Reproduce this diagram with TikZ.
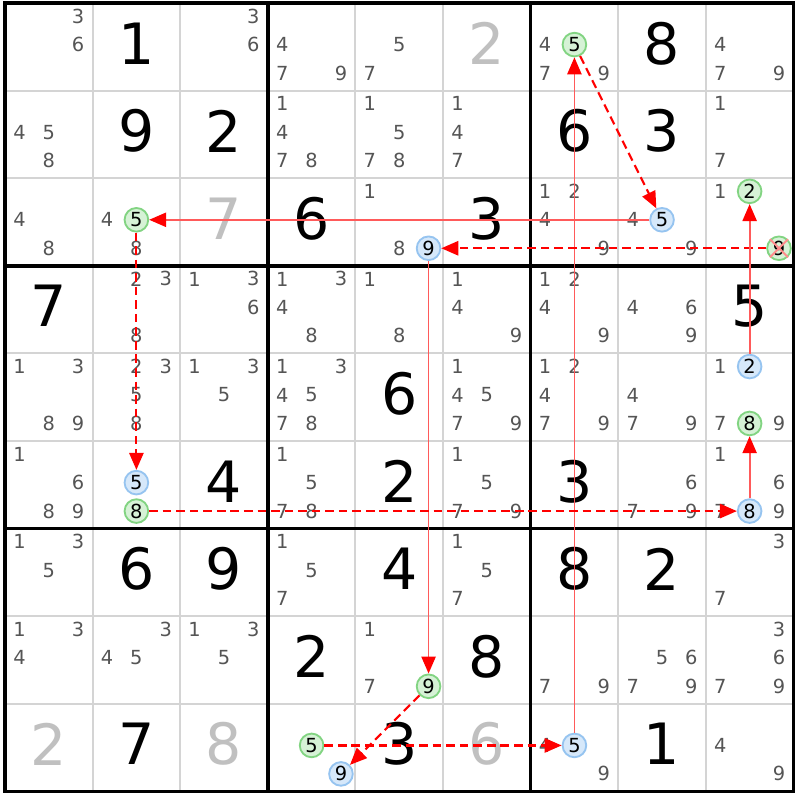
\documentclass[tikz,border=0pt]{standalone}
\usepackage{fontspec}
\setmainfont{DejaVu Sans}
\usetikzlibrary{arrows.meta}
\definecolor{candgray}{RGB}{85,85,85}
\definecolor{pale}{RGB}{192,192,192}
\definecolor{gridgray}{RGB}{212,212,212}
\definecolor{greenfill}{RGB}{214,242,214}
\definecolor{greenline}{RGB}{130,212,130}
\definecolor{bluefill}{RGB}{214,232,250}
\definecolor{blueline}{RGB}{150,196,240}
\definecolor{linkred}{RGB}{255,90,90}

\begin{document}
\begin{tikzpicture}[x=1cm,y=-1cm,>={Triangle[length=5.5pt,width=4.6pt,color=red]},
  cand/.style={text=candgray, font=\fontsize{6.3}{7}\selectfont, inner sep=0pt},
  big/.style={font=\fontsize{18.5}{20}\selectfont, inner sep=0pt},
  hit/.style={circle, draw=#1line, fill=#1fill, line width=0.6pt, minimum size=0.27cm, inner sep=0pt, font=\fontsize{6.3}{7}\selectfont},
  strong/.style={->, draw=linkred, line width=0.6pt},
  weak/.style={->, draw=red, line width=0.7pt, dash pattern=on 2.8pt off 1.6pt}]
  \useasboundingbox[fill=white] (-0.057,-0.034) rectangle (9.075,9.098);

  \foreach \i in {1,...,8} {
    \draw[gridgray, line width=0.65pt] (\i,0) -- (\i,9);
    \draw[gridgray, line width=0.65pt] (0,\i) -- (9,\i);
  }
  \foreach \i in {3,6} {
    \draw[line width=1.2pt] (\i,0) -- (\i,9);
    \draw[line width=1.2pt] (0,\i) -- (9,\i);
  }
  \draw[line width=1.2pt] (0,0) rectangle (9,9);

  \foreach \r/\c/\d in {1/2/1, 1/8/8, 2/2/9, 2/3/2, 2/7/6, 2/8/3, 3/4/6, 3/6/3, 4/1/7, 4/9/5, 5/5/6, 6/3/4, 6/5/2, 6/7/3,
      7/2/6, 7/3/9, 7/5/4, 7/7/8, 7/8/2, 8/4/2, 8/6/8, 9/2/7, 9/5/3, 9/8/1}
    \node[big] (g\r\c) at (\c-0.5,\r-0.54) {\d};
  \foreach \r/\c/\d in {1/6/2, 3/3/7, 9/1/2, 9/3/8, 9/6/6}
    \node[big, text=pale] (g\r\c) at (\c-0.5,\r-0.54) {\d};

  \foreach \r/\c/\ds in {1/1/{3,6}, 1/3/{3,6}, 1/4/{4,7,9}, 1/5/{5,7}, 1/7/{4,7,9}, 1/9/{4,7,9},
      2/1/{4,5,8}, 2/4/{1,4,7,8}, 2/5/{1,5,7,8}, 2/6/{1,4,7}, 2/9/{1,7},
      3/1/{4,8}, 3/2/{4,8}, 3/5/{1,8}, 3/7/{1,2,4,9}, 3/8/{4,9}, 3/9/{1},
      4/2/{2,3,8}, 4/3/{1,3,6}, 4/4/{1,3,4,8}, 4/5/{1,8}, 4/6/{1,4,9}, 4/7/{1,2,4,9}, 4/8/{4,6,9},
      5/1/{1,3,8,9}, 5/2/{2,3,5,8}, 5/3/{1,3,5}, 5/4/{1,3,4,5,7,8}, 5/6/{1,4,5,7,9}, 5/7/{1,2,4,7,9}, 5/8/{4,7,9}, 5/9/{1,7,9},
      6/1/{1,6,8,9}, 6/4/{1,5,7,8}, 6/6/{1,5,7,9}, 6/8/{6,7,9}, 6/9/{1,6,7,9},
      7/1/{1,3,5}, 7/4/{1,5,7}, 7/6/{1,5,7}, 7/9/{3,7},
      8/1/{1,3,4}, 8/2/{3,4,5}, 8/3/{1,3,5}, 8/5/{1,7}, 8/7/{7,9}, 8/8/{5,6,7,9}, 8/9/{3,6,7,9},
      9/7/{4,9}, 9/9/{4,9}}
    \foreach \d in \ds
      \node[cand] (p\r\c\d) at ({\c-0.835+0.335*mod(\d-1,3)},{\r-0.85+0.325*div(\d-1,3)}) {\d};

  \foreach \r/\c/\d/\k in {3/8/5/blue, 3/2/5/green, 1/7/5/green, 9/7/5/blue, 9/4/5/green, 8/5/9/green, 9/4/9/blue,
      3/5/9/blue, 3/9/9/green, 3/9/2/green, 5/9/2/blue, 5/9/8/green, 6/9/8/blue, 6/2/8/green, 6/2/5/blue}
    \node[hit=\k] (p\r\c\d) at ({\c-0.835+0.335*mod(\d-1,3)},{\r-0.85+0.325*div(\d-1,3)}) {\d};

  \draw[red!45, line width=0.6pt] (p399.135) -- (p399.-45) (p399.45) -- (p399.-135);

  \draw[strong] (p385) -- (p325);
  \draw[weak] (p175) -- (p385);
  \draw[strong] (p975) -- (p175);
  \draw[weak] (p945) -- (p975);
  \draw[weak] (p859) -- (p949);
  \draw[strong] (p359) -- (p859);
  \draw[weak] (p399) -- (p359);
  \draw[strong] (p592) -- (p392);
  \draw[strong] (p698) -- (p598);
  \draw[weak] (p628) -- (p698);
  \draw[weak] (p325) -- (p625);
\end{tikzpicture}
\end{document}
